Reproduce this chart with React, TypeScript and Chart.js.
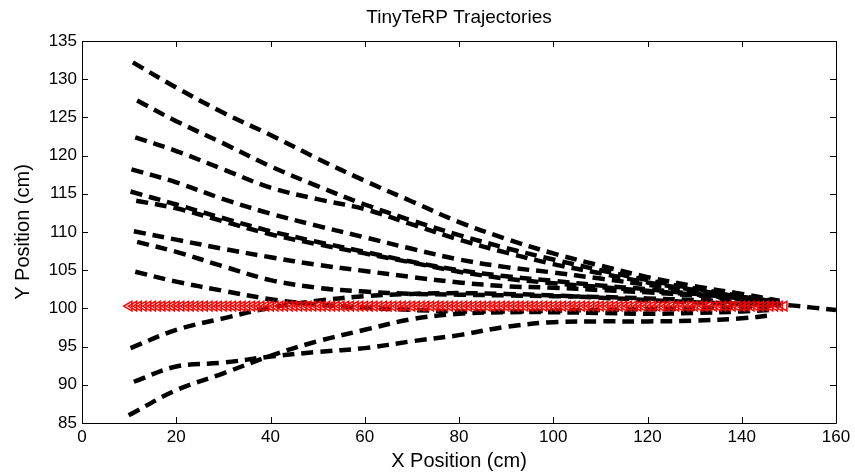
import React, { useEffect, useRef } from "react";
import { Chart, registerables } from "chart.js";

Chart.register(...registerables);

const TITLE = "TinyTeRP Trajectories";
const X_TITLE = "X Position (cm)";
const Y_TITLE = "Y Position (cm)";

const X_MIN = 0;
const X_MAX = 160;
const X_STEP = 20;
const Y_MIN = 85;
const Y_MAX = 135;
const Y_STEP = 5;

// Black dashed trajectories: x positions and y positions (cm)
const trajAX = [10.8, 20, 30, 40, 50, 60, 70, 80, 90, 100, 110, 120, 130, 140, 148];
const trajAY = [132.2, 128.9, 125.6, 122.7, 119.6, 116.7, 114.0, 111.3, 109.1, 107.2, 105.6, 104.1, 102.9, 101.9, 101.0];
const trajBX = [11.7, 20, 30, 40, 50, 60, 70, 80, 90, 100, 110, 120, 130, 140, 148];
const trajBY = [127.2, 124.5, 121.6, 118.6, 116.0, 113.6, 111.5, 109.6, 107.9, 106.4, 105.0, 103.7, 102.6, 101.6, 100.9];
const trajCX = [11.3, 20, 30, 40, 50, 60, 70, 80, 90, 100, 110, 120, 130, 140, 148];
const trajCY = [122.4, 120.6, 118.2, 115.8, 114.3, 113.0, 111.0, 109.0, 107.3, 105.8, 104.6, 103.4, 102.4, 101.5, 100.8];
const trajDX = [10.5, 20, 30, 40, 50, 60, 70, 80, 90, 100, 110, 120, 130, 140, 148];
const trajDY = [118.2, 116.5, 114.3, 112.4, 110.8, 109.3, 107.8, 106.4, 105.4, 104.7, 103.9, 103.1, 102.3, 101.5, 100.8];
const trajEX = [10.3, 20, 30, 40, 50, 60, 70, 80, 90, 100, 110, 120, 130, 140, 148];
const trajEY = [115.3, 113.6, 111.8, 110.1, 108.7, 107.4, 106.1, 105.0, 104.2, 103.6, 103.0, 102.5, 101.9, 101.3, 100.7];
const trajFX = [11.5, 20, 30, 40, 50, 60, 70, 80, 90, 100, 110, 120, 130, 140, 148];
const trajFY = [114.1, 113.1, 111.4, 109.7, 108.4, 107.2, 106.0, 104.8, 103.9, 103.3, 102.8, 102.3, 101.8, 101.2, 100.6];
const trajGX = [11, 20, 30, 40, 50, 60, 70, 80, 90, 100, 110, 120, 130, 140, 148];
const trajGY = [110.1, 109.0, 107.8, 106.7, 105.7, 104.9, 104.1, 103.4, 102.9, 102.7, 102.4, 102.1, 101.7, 101.2, 100.6];
const trajHX = [11.7, 20, 30, 40, 50, 60, 70, 80, 90, 100, 110, 120, 130, 140, 148];
const trajHY = [108.7, 107.4, 105.5, 103.7, 102.7, 102.2, 101.9, 101.8, 101.7, 101.6, 101.5, 101.3, 101.1, 100.8, 100.5];
const trajIX = [11.3, 20, 30, 40, 50, 60, 70, 80, 90, 100, 110, 120, 130, 140, 148];
const trajIY = [104.8, 103.5, 102.3, 101.2, 100.5, 100.1, 99.8, 99.6, 99.6, 99.7, 99.8, 99.9, 100.0, 100.2, 100.4];
const trajJX = [10.3, 20, 30, 40, 50, 60, 70, 80, 90, 100, 110, 120, 130, 140, 150, 155, 160];
const trajJY = [94.8, 97.2, 98.7, 100.1, 101.0, 101.6, 101.9, 102.0, 101.9, 101.7, 101.4, 101.1, 100.8, 100.6, 100.4, 100.1, 99.8];
const trajKX = [11, 20, 30, 40, 50, 60, 70, 80, 90, 100, 110, 120, 130, 140, 146.5];
const trajKY = [90.4, 92.4, 92.9, 93.7, 94.3, 94.8, 95.7, 96.5, 97.6, 98.2, 98.3, 98.3, 98.4, 98.7, 99.1];
const trajLX = [9.9, 20, 30, 40, 50, 60, 70, 80, 90, 100, 110, 120, 130, 140, 146];
const trajLY = [86.0, 89.3, 91.5, 93.8, 95.7, 97.2, 98.6, 99.3, 99.5, 99.5, 99.4, 99.3, 99.4, 99.6, 99.8];

const TRAJ_X = [trajAX, trajBX, trajCX, trajDX, trajEX, trajFX, trajGX, trajHX, trajIX, trajJX, trajKX, trajLX];
const TRAJ_Y = [trajAY, trajBY, trajCY, trajDY, trajEY, trajFY, trajGY, trajHY, trajIY, trajJY, trajKY, trajLY];

// Red reference path markers
const REF_Y = 100.3;
const REF_X = [
  10, 11, 12, 13, 14, 15, 16, 17, 18, 19, 20, 21, 22, 23, 24, 25, 26, 27, 28, 29,
  30, 31, 32, 33, 34, 35, 36, 37, 38, 39, 40, 41, 42, 43, 44, 45, 46, 47, 48, 49,
  50, 51, 52, 53, 54, 55, 56, 57, 58, 59, 60, 61, 62, 63, 64, 65, 66, 67, 68, 69,
  70, 71, 72, 73, 74, 75, 76, 77, 78, 79, 80, 81, 82, 83, 84, 85, 86, 87, 88, 89,
  90, 91, 92, 93, 94, 95, 96, 97, 98, 99, 100, 101, 102, 103, 104, 105, 106, 107, 108, 109,
  110, 111, 112, 113, 114, 115, 116, 117, 118, 119, 120, 121, 122, 123, 124, 125, 126, 127, 128, 129,
  130, 131, 132, 133, 134, 135, 136, 137, 138, 139, 140, 141, 142, 143, 144, 145, 146, 147, 148, 149,
];

const FONT = "'Liberation Sans', Arial, Helvetica, sans-serif";

const framePlugin = {
  id: "matlabFrame",
  afterDraw(chart: any) {
    const { ctx, chartArea } = chart;
    const { left, right, top, bottom } = chartArea;
    const xs = chart.scales.x;
    const ys = chart.scales.y;
    ctx.save();
    ctx.strokeStyle = "#000";
    ctx.lineWidth = 1;
    ctx.beginPath();
    ctx.rect(Math.round(left) + 0.5, Math.round(top) + 0.5, Math.round(right - left), Math.round(bottom - top));
    ctx.stroke();
    const tl = 6;
    ctx.beginPath();
    xs.ticks.forEach((t: any) => {
      const p = Math.round(xs.getPixelForValue(t.value)) + 0.5;
      ctx.moveTo(p, bottom);
      ctx.lineTo(p, bottom - tl);
      ctx.moveTo(p, top);
      ctx.lineTo(p, top + tl);
    });
    ys.ticks.forEach((t: any) => {
      const p = Math.round(ys.getPixelForValue(t.value)) + 0.5;
      ctx.moveTo(left, p);
      ctx.lineTo(left + tl, p);
      ctx.moveTo(right, p);
      ctx.lineTo(right - tl, p);
    });
    ctx.stroke();

    ctx.fillStyle = "#000";
    ctx.textAlign = "center";
    ctx.textBaseline = "middle";
    ctx.font = `19px ${FONT}`;
    ctx.fillText(TITLE, (left + right) / 2, 18);
    ctx.font = `20px ${FONT}`;
    ctx.fillText(X_TITLE, (left + right) / 2, 461);
    ctx.translate(23, (top + bottom) / 2);
    ctx.rotate(-Math.PI / 2);
    ctx.fillText(Y_TITLE, 0, 0);
    ctx.restore();
  },
};

export default function App() {
  const ref = useRef<HTMLCanvasElement | null>(null);

  useEffect(() => {
    if (!ref.current) return;
    const trajDatasets = TRAJ_X.map((xsArr, i) => ({
      label: `traj${i + 1}`,
      data: xsArr.map((x, j) => ({ x, y: TRAJ_Y[i][j] })),
      showLine: true,
      borderColor: "#000",
      borderWidth: 4.5,
      borderDash: [12, 7],
      borderCapStyle: "butt" as const,
      tension: 0.35,
      pointRadius: 0,
      fill: false,
      order: 2,
    }));
    const refDataset = {
      label: "reference",
      data: REF_X.map((x) => ({ x, y: REF_Y })),
      showLine: false,
      pointStyle: "triangle" as const,
      pointRotation: -90,
      pointRadius: 5.5,
      pointBorderWidth: 1.5,
      pointBorderColor: "#ff0000",
      pointBackgroundColor: "rgba(255,255,255,0)",
      borderColor: "#ff0000",
      backgroundColor: "rgba(255,255,255,0)",
      order: 1,
    };
    const chart = new Chart(ref.current, {
      type: "scatter",
      data: { datasets: [...trajDatasets, refDataset] },
      options: {
        animation: false,
        responsive: false,
        devicePixelRatio: 1,
        layout: { padding: { top: 41, right: 19, left: 0, bottom: 0 } },
        plugins: {
          legend: { display: false },
          title: { display: false },
          tooltip: { enabled: false },
        },
        scales: {
          x: {
            type: "linear",
            min: X_MIN,
            max: X_MAX,
            ticks: {
              stepSize: X_STEP,
              color: "#000",
              padding: 4,
              maxRotation: 0,
              font: { family: FONT, size: 17 },
            },
            grid: { display: false, drawTicks: false },
            border: { display: false },
            afterFit: (s: any) => {
              s.height = 51;
            },
          },
          y: {
            type: "linear",
            min: Y_MIN,
            max: Y_MAX,
            ticks: {
              stepSize: Y_STEP,
              color: "#000",
              padding: 5,
              font: { family: FONT, size: 17 },
            },
            grid: { display: false, drawTicks: false },
            border: { display: false },
            afterFit: (s: any) => {
              s.width = 82;
            },
          },
        },
      },
      plugins: [framePlugin],
    });
    return () => chart.destroy();
  }, []);

  return (
    <div style={{ position: "fixed", left: 0, top: 0, width: 855, height: 474, background: "#fff" }}>
      <canvas ref={ref} width={855} height={474} style={{ width: 855, height: 474 }} />
    </div>
  );
}
